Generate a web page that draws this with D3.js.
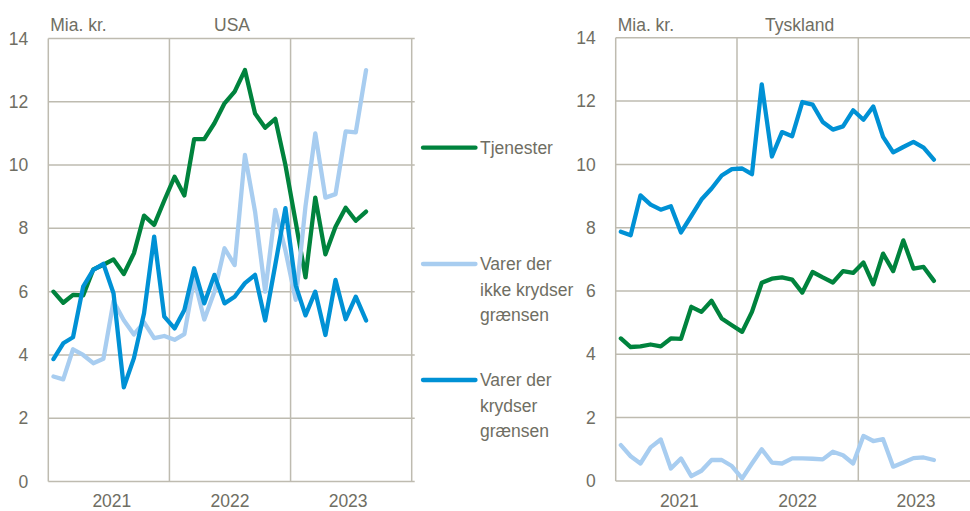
<!DOCTYPE html>
<html>
<head>
<meta charset="utf-8">
<script src="https://cdn.jsdelivr.net/npm/d3@7"></script>
<style>
  html, body { margin: 0; padding: 0; background: #ffffff; }
  svg { display: block; }
  text { font-family: "Liberation Sans", Arial, sans-serif; fill: #6f6e63; }
</style>
</head>
<body>
<svg id="chart" width="970" height="511"></svg>
<script>
// ---- Data (Mia. kr., monthly Jan 2021 – Aug 2023) ----
const monthStart = new Date(2021, 0, 1);
const monthEnd = new Date(2023, 8, 1);
const months = d3.timeMonths(monthStart, monthEnd); // 32 months

const seriesNames = ["Tjenester", "Varer der ikke krydser grænsen", "Varer der krydser grænsen"];
const legendLines = [["Tjenester"], ["Varer der", "ikke krydser", "grænsen"], ["Varer der", "krydser", "grænsen"]];
const seriesColors = ["#00833d", "#a8cdf0", "#0091d5"];

const usaTjenester = [6.0, 5.65, 5.9, 5.88, 6.7, 6.85, 7.02, 6.56, 7.21, 8.4, 8.11, 8.88,
  9.63, 9.04, 10.82, 10.82, 11.32, 11.95, 12.32, 13.0, 11.63, 11.18, 11.46, 10.0,
  8.2, 6.45, 8.97, 7.18, 8.05, 8.65, 8.24, 8.53];
const usaIkkeKrydser = [3.32, 3.23, 4.18, 4.0, 3.74, 3.88, 5.7, 5.1, 4.65, 5.03, 4.53, 4.6,
  4.48, 4.66, 6.4, 5.12, 6.0, 7.37, 6.84, 10.32, 8.53, 6.0, 8.58, 7.3,
  5.74, 8.7, 11.0, 8.97, 9.08, 11.06, 11.03, 13.0];
const usaKrydser = [3.87, 4.37, 4.56, 6.16, 6.69, 6.88, 5.95, 2.98, 3.9, 5.32, 7.74, 5.21,
  4.84, 5.42, 6.74, 5.63, 6.53, 5.63, 5.84, 6.27, 6.53, 5.09, 6.85, 8.64,
  6.2, 5.25, 6.0, 4.63, 6.37, 5.13, 5.84, 5.09];

const tysTjenester = [4.5, 4.23, 4.25, 4.31, 4.25, 4.5, 4.49, 5.5, 5.34, 5.69, 5.13, 4.92,
  4.71, 5.34, 6.26, 6.39, 6.43, 6.36, 5.95, 6.6, 6.43, 6.27, 6.63, 6.57,
  6.9, 6.21, 7.18, 6.63, 7.6, 6.71, 6.76, 6.32];
const tysIkkeKrydser = [1.13, 0.78, 0.55, 1.06, 1.31, 0.39, 0.71, 0.15, 0.32, 0.66, 0.66, 0.47,
  0.08, 0.55, 1.0, 0.58, 0.55, 0.71, 0.71, 0.7, 0.68, 0.92, 0.81, 0.55,
  1.42, 1.26, 1.32, 0.45, 0.58, 0.72, 0.74, 0.66];
const tysKrydser = [7.87, 7.76, 9.02, 8.73, 8.57, 8.68, 7.85, 8.37, 8.89, 9.24, 9.65, 9.85,
  9.87, 9.69, 12.53, 10.25, 11.02, 10.89, 11.97, 11.89, 11.34, 11.1, 11.2, 11.71,
  11.41, 11.83, 10.87, 10.38, 10.55, 10.71, 10.53, 10.15];

const yTicks = [0, 2, 4, 6, 8, 10, 12, 14];
const yearLabels = ["2021", "2022", "2023"];
const unitLabel = "Mia. kr.";
const panelTitles = ["USA", "Tyskland"];

// ---- Layout ----
const svg = d3.select("#chart");
const gridColor = "#bebbb0";
const fontSize = 17.5;

const panels = [
  { title: panelTitles[0], left: 48.3, right: 411.7, top: 38.4, bottom: 481.6,
    series: [usaTjenester, usaIkkeKrydser, usaKrydser] },
  { title: panelTitles[1], left: 615.7, right: 979.6, top: 37.8, bottom: 480.9,
    series: [tysTjenester, tysIkkeKrydser, tysKrydser] }
];

const yearStarts = [2021, 2022, 2023, 2024].map(y => new Date(y, 0, 1));
const monthCenter = m => new Date((m.getTime() + d3.timeMonth.offset(m, 1).getTime()) / 2);

panels.forEach(p => {
  const g = svg.append("g");
  const x = d3.scaleTime().domain([yearStarts[0], yearStarts[3]]).range([p.left, p.right]);
  const y = d3.scaleLinear().domain([0, 14]).range([p.bottom, p.top]);

  // horizontal gridlines
  g.append("g").selectAll("line").data(yTicks).join("line")
    .attr("x1", p.left).attr("x2", p.right + 3)
    .attr("y1", d => y(d)).attr("y2", d => y(d))
    .attr("stroke", gridColor).attr("stroke-width", 1.5);

  // vertical gridlines at year boundaries
  g.append("g").selectAll("line").data(yearStarts).join("line")
    .attr("x1", d => x(d)).attr("x2", d => x(d))
    .attr("y1", p.top).attr("y2", p.bottom)
    .attr("stroke", gridColor).attr("stroke-width", 1.5);

  // y tick labels
  g.append("g").selectAll("text").data(yTicks).join("text")
    .attr("x", p.left - 20).attr("y", d => y(d))
    .attr("dy", "0.35em").attr("text-anchor", "end")
    .style("font-size", fontSize + "px")
    .text(d => d);

  // x year labels
  g.append("g").selectAll("text").data(yearLabels).join("text")
    .attr("x", (d, i) => (x(yearStarts[i]) + x(yearStarts[i + 1])) / 2 + (1 - i) * 3)
    .attr("y", 506.5)
    .attr("text-anchor", "middle")
    .style("font-size", fontSize + "px")
    .text(d => d);

  // unit and title
  g.append("text").attr("x", p.left + 2).attr("y", 30.5)
    .style("font-size", fontSize + "px").text(unitLabel);
  g.append("text").attr("x", (p.left + p.right) / 2 + 2).attr("y", 30.5)
    .attr("text-anchor", "middle")
    .style("font-size", fontSize + "px").text(p.title);

  // series lines
  const line = d3.line()
    .x((d, i) => x(monthCenter(months[i])))
    .y(d => y(d));
  p.series.forEach((s, k) => {
    g.append("path").datum(s)
      .attr("d", line)
      .attr("fill", "none")
      .attr("stroke", seriesColors[k])
      .attr("stroke-width", 4.3)
      .attr("stroke-linejoin", "round")
      .attr("stroke-linecap", "round");
  });
});

// ---- Legend ----
const legendY = [147.7, 264, 380];
const legend = svg.append("g");
legendLines.forEach((lines, k) => {
  legend.append("line")
    .attr("x1", 423).attr("x2", 475.5)
    .attr("y1", legendY[k]).attr("y2", legendY[k])
    .attr("stroke", seriesColors[k]).attr("stroke-width", 4.3)
    .attr("stroke-linecap", "round");
  const t = legend.append("text")
    .attr("x", 480).attr("y", legendY[k])
    .style("font-size", fontSize + "px");
  lines.forEach((ln, j) => {
    t.append("tspan").attr("x", 480)
      .attr("y", legendY[k] + 6.4 + j * 25.3)
      .text(ln);
  });
});
</script>
</body>
</html>
